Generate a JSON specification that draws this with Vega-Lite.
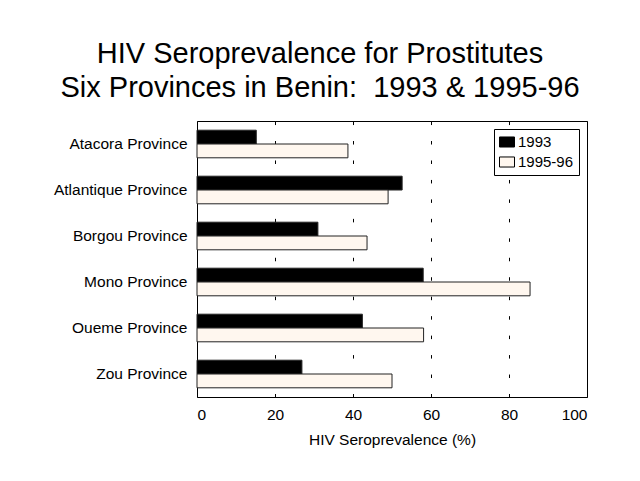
{
  "$schema": "https://vega.github.io/schema/vega-lite/v6.json",
  "width": 390,
  "height": 276,
  "autosize": {"type": "none"},
  "padding": {"left": 197, "top": 121, "right": 53, "bottom": 84},
  "background": "white",
  "title": {
    "text": ["HIV Seroprevalence for Prostitutes", "Six Provinces in Benin:\u00a0\u00a01993 & 1995-96"],
    "anchor": "middle",
    "frame": "group",
    "dx": -72,
    "offset": 18,
    "fontSize": 29,
    "fontWeight": "normal",
    "font": "Liberation Sans",
    "lineHeight": 34,
    "color": "black"
  },
  "data": {
    "values": [
      {"province": "Atacora Province", "year": "1993", "value": 15.2},
      {"province": "Atacora Province", "year": "1995-96", "value": 38.7},
      {"province": "Atlantique Province", "year": "1993", "value": 52.6},
      {"province": "Atlantique Province", "year": "1995-96", "value": 49.0},
      {"province": "Borgou Province", "year": "1993", "value": 31.0},
      {"province": "Borgou Province", "year": "1995-96", "value": 43.6},
      {"province": "Mono Province", "year": "1993", "value": 58.0},
      {"province": "Mono Province", "year": "1995-96", "value": 85.4},
      {"province": "Oueme Province", "year": "1993", "value": 42.4},
      {"province": "Oueme Province", "year": "1995-96", "value": 58.1},
      {"province": "Zou Province", "year": "1993", "value": 26.9},
      {"province": "Zou Province", "year": "1995-96", "value": 50.0}
    ]
  },
  "mark": {"type": "bar", "stroke": "#222222", "strokeWidth": 1},
  "encoding": {
    "y": {
      "field": "province",
      "type": "nominal",
      "sort": null,
      "scale": {"paddingInner": 0.4, "paddingOuter": 0.2},
      "axis": {
        "title": null,
        "domain": false,
        "ticks": false,
        "labelPadding": 10,
        "labelFontSize": 15.5,
        "labelFont": "Liberation Sans",
        "labelColor": "black",
        "grid": false
      }
    },
    "yOffset": {
      "field": "year",
      "type": "nominal",
      "scale": {"paddingInner": 0, "paddingOuter": 0}
    },
    "x": {
      "field": "value",
      "type": "quantitative",
      "scale": {"domain": [0, 100], "nice": false},
      "axis": {
        "title": "HIV Seroprevalence (%)",
        "values": [0, 20, 40, 60, 80, 100],
        "domain": false,
        "ticks": false,
        "labelPadding": 10,
        "labelFontSize": 15.5,
        "labelFont": "Liberation Sans",
        "labelColor": "black",
        "titleFontSize": 15.5,
        "titleFont": "Liberation Sans",
        "titleFontWeight": "normal",
        "titleColor": "black",
        "titlePadding": 10,
        "grid": true,
        "gridColor": "black",
        "gridOpacity": 1,
        "gridWidth": 1,
        "gridDash": [3.5, 15.96]
      }
    },
    "fill": {
      "field": "year",
      "type": "nominal",
      "scale": {"domain": ["1993", "1995-96"], "range": ["black", "#FFF7EF"]},
      "legend": {
        "title": null,
        "orient": "top-right",
        "offset": 8,
        "strokeColor": "black",
        "padding": 5,
        "fillColor": "white",
        "symbolType": "M-1,-0.67H1V0.67H-1Z",
        "symbolSize": 225,
        "symbolStrokeColor": "black",
        "symbolStrokeWidth": 1,
        "labelFontSize": 15,
        "labelFont": "Liberation Sans",
        "labelColor": "black",
        "labelOffset": 3,
        "rowPadding": 4
      }
    }
  },
  "config": {
    "view": {"stroke": "black", "strokeWidth": 1}
  }
}
